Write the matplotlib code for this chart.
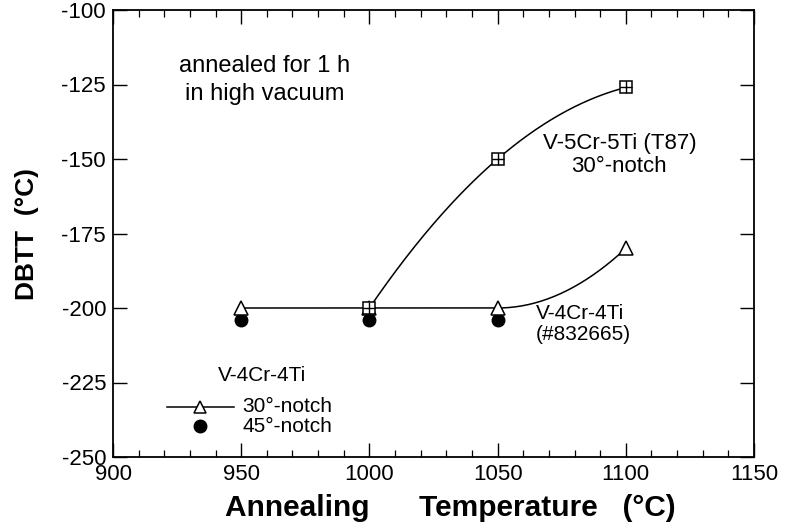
import numpy as np
import matplotlib
matplotlib.use("Agg")
import matplotlib.pyplot as plt
from matplotlib.ticker import MultipleLocator

plt.rcParams['font.family'] = ['Liberation Sans', 'DejaVu Sans']
plt.rcParams['axes.unicode_minus'] = False

# Annealing temperatures (°C)
temp_t87 = [1000, 1050, 1100]
dbtt_t87 = [-200, -150, -126]          # V-5Cr-5Ti (T87), 30°-notch

temp_832665 = [950, 1000, 1050, 1100]
dbtt_30 = [-200, -200, -200, -180]     # V-4Cr-4Ti (#832665), 30°-notch

temp_45 = [950, 1000, 1050]
dbtt_45 = [-204, -204, -204]           # V-4Cr-4Ti, 45°-notch

x_ticks = [900, 950, 1000, 1050, 1100, 1150]
y_ticks = [-250, -225, -200, -175, -150, -125, -100]


def hermite(xs, ys, slopes, n=60):
    """Piecewise cubic Hermite curve through the given points."""
    px, py = [], []
    for i in range(len(xs) - 1):
        x0, x1 = xs[i], xs[i + 1]
        y0, y1 = ys[i], ys[i + 1]
        m0, m1 = slopes[i], slopes[i + 1]
        h = x1 - x0
        t = np.linspace(0, 1, n)
        h00 = 2 * t**3 - 3 * t**2 + 1
        h10 = t**3 - 2 * t**2 + t
        h01 = -2 * t**3 + 3 * t**2
        h11 = t**3 - t**2
        px.append(x0 + t * h)
        py.append(h00 * y0 + h10 * h * m0 + h01 * y1 + h11 * h * m1)
    return np.concatenate(px), np.concatenate(py)


fig = plt.figure(figsize=(7.86, 5.29), dpi=100)
ax = fig.add_axes([113 / 786, 1 - 457 / 529, (754 - 113) / 786, (457 - 10) / 529])

# smooth curve for T87: quadratic through the three points
coef = np.polyfit(temp_t87, dbtt_t87, 2)
xs = np.linspace(temp_t87[0], temp_t87[-1], 200)
ax.plot(xs, np.polyval(coef, xs), color='black', lw=1.1)

# V-4Cr-4Ti 30°-notch: flat, then rising smoothly
end_slope = 2 * (dbtt_30[-1] - dbtt_30[-2]) / (temp_832665[-1] - temp_832665[-2])
cx, cy = hermite(temp_832665, dbtt_30, [0, 0, 0, end_slope])
ax.plot(cx, cy, color='black', lw=1.1)

# markers
ax.plot(temp_45, dbtt_45, 'o', color='black', ms=9, zorder=3)
ax.plot(temp_832665, dbtt_30, '^', mfc='white', mec='black', mew=1.1, ms=9.5, zorder=4)
ax.plot(temp_t87, dbtt_t87, 's', mfc='white', mec='black', mew=1.1, ms=8.5, zorder=4)
ax.plot(temp_t87, dbtt_t87, '+', color='black', mew=1.0, ms=8.5, zorder=5)

ax.set_xlim(900, 1150)
ax.set_ylim(-250, -100)
ax.set_xticks(x_ticks)
ax.set_yticks(y_ticks)
ax.xaxis.set_minor_locator(MultipleLocator(10))
ax.tick_params(axis='both', which='major', direction='in', length=10, width=1.0,
               labelsize=16, top=True, right=True, pad=5)
ax.tick_params(axis='x', which='minor', direction='in', length=5, width=0.9,
               top=True, bottom=True)
for s in ax.spines.values():
    s.set_linewidth(1.3)

ax.set_xlabel('Annealing      Temperature   (°C)', fontsize=21.5, fontweight='bold',
              ha='left')
ax.xaxis.set_label_coords((225 - 113) / 641, -0.082)
ax.set_ylabel('DBTT  (°C)', fontsize=19, fontweight='bold', labelpad=16)

# annotations
ax.text(959, -123.5, 'annealed for 1 h\nin high vacuum', ha='center', va='center',
        fontsize=17, linespacing=1.35)
ax.text(1097.5, -148.7, 'V-5Cr-5Ti (T87)\n30°-notch', ha='center', va='center',
        fontsize=16, linespacing=1.15)
ax.text(1065, -205.3, 'V-4Cr-4Ti\n(#832665)', ha='left', va='center',
        fontsize=15, linespacing=1.15)

# legend block
ax.text(958, -222.5, 'V-4Cr-4Ti', ha='center', va='center', fontsize=15)
ax.plot([921, 947], [-233.2, -233.2], color='black', lw=1.1)
ax.plot([934], [-233.2], '^', mfc='white', mec='black', mew=1.1, ms=9)
ax.text(950.5, -233.2, '30°-notch', ha='left', va='center', fontsize=15)
ax.plot([934], [-239.6], 'o', color='black', ms=9)
ax.text(950.5, -239.6, '45°-notch', ha='left', va='center', fontsize=15)

fig.savefig('out.png', dpi=100)
